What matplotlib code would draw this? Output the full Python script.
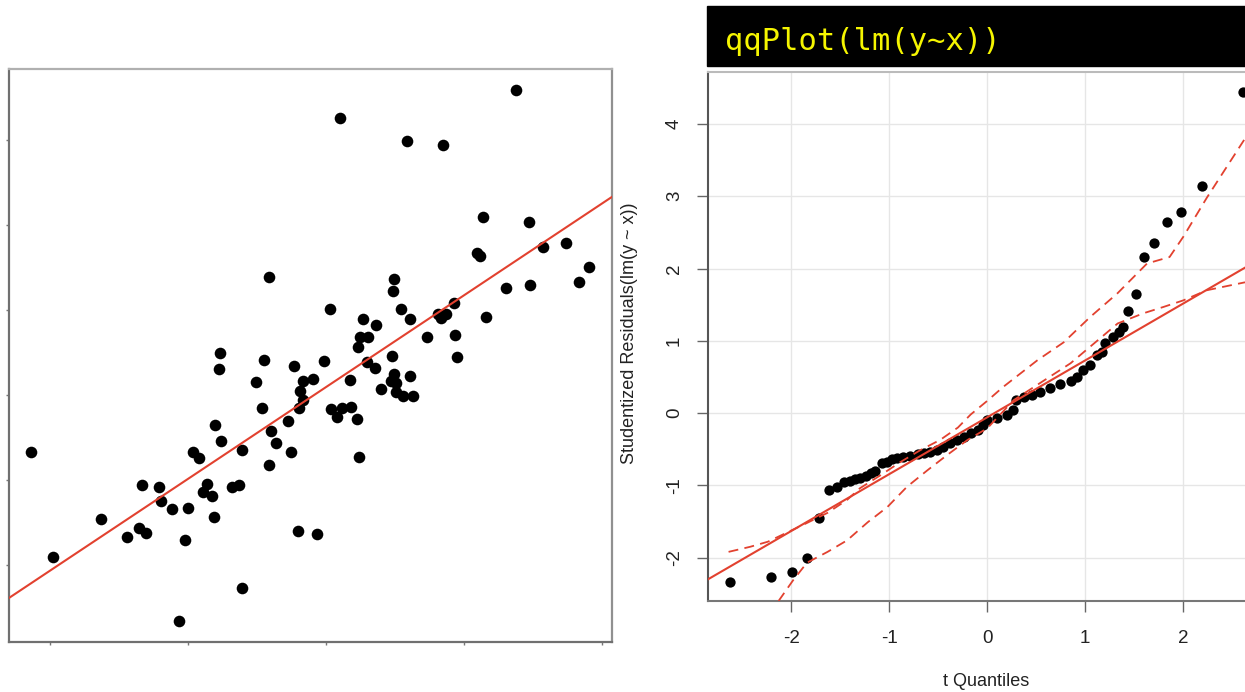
import matplotlib.pyplot as plt
from matplotlib.patches import Rectangle

# left panel: y vs x scatter with the lm fit (tick labels are blank in the source)
x_vals = [-1.38, 0.22, 3.70, 5.58, 6.45, 6.96, 6.67, 7.90, 8.04, 8.84,
          9.35, 9.78, 10.00, 10.36, 10.80, 11.09, 11.38, 11.74, 11.88, 11.96,
          12.39, 12.32, 12.25, 13.19, 13.70, 13.91, 13.91, 14.93, 15.36, 15.51,
          16.01, 15.87, 15.87, 16.38, 17.25, 17.46, 17.68, 17.97, 18.04, 18.12,
          18.33, 18.33, 19.06, 19.35, 19.86, 20.29, 20.36, 20.80, 21.01, 21.16,
          21.81, 21.74, 22.25, 22.39, 22.32, 22.46, 22.68, 23.04, 22.97, 23.62,
          23.55, 23.99, 24.78, 24.71, 24.86, 24.93, 24.93, 25.07, 25.07, 25.43,
          25.87, 26.09, 26.09, 25.58, 26.30, 27.32, 28.12, 28.33, 28.48, 28.70,
          29.28, 29.35, 29.49, 30.94, 31.16, 31.38, 31.59, 33.04, 33.77, 34.71,
          34.78, 35.72, 37.39, 38.33, 39.06]
y_vals = [13.29, 0.94, 5.41, 3.29, 4.35, 3.76, 9.41, 9.18, 7.53, 6.59,
          -6.59, 2.94, 6.71, 13.29, 12.59, 8.59, 9.53, 8.12, 5.65, 16.47,
          14.59, 24.94, 23.06, 9.18, 9.41, -2.71, 13.53, 21.53, 18.47, 24.12,
          15.76, 11.76, 33.88, 14.35, 16.94, 13.29, 23.41, 4.00, 18.47, 20.47,
          21.65, 19.41, 21.88, 3.65, 24.00, 30.12, 18.35, 17.41, 52.59, 18.47,
          18.59, 21.76, 17.18, 12.71, 25.65, 26.82, 28.94, 26.82, 23.88, 28.24,
          23.18, 20.71, 24.59, 21.65, 32.24, 33.65, 22.47, 21.41, 20.35, 30.12,
          49.88, 22.24, 28.94, 19.88, 19.88, 26.82, 29.53, 29.06, 49.41, 29.53,
          30.82, 27.06, 24.47, 36.71, 36.35, 40.94, 29.18, 32.59, 55.88, 40.35,
          32.94, 37.41, 37.88, 33.29, 35.06]
fit_intercept = -0.67
fit_slope = 1.08
left_xticks = [0, 10, 20, 30, 40]
left_yticks = [0, 10, 20, 30, 40, 50]

# right panel: qqPlot(lm(y~x))
t_quant = [-2.63, -2.21, -1.99, -1.84, -1.72, -1.62, -1.53, -1.46, -1.40, -1.35,
           -1.30, -1.24, -1.19, -1.15, -1.07, -1.02, -0.97, -0.92, -0.86, -0.79,
           -0.71, -0.65, -0.58, -0.51, -0.45, -0.38, -0.31, -0.24, -0.17, -0.10,
           -0.04, 0.00, 0.10, 0.20, 0.26, 0.29, 0.37, 0.46, 0.54, 0.64,
           0.74, 0.85, 0.92, 0.98, 1.05, 1.12, 1.17, 1.20, 1.28, 1.34,
           1.38, 1.44, 1.52, 1.60, 1.70, 1.83, 1.98, 2.19, 2.61]
stud_resid = [-2.34, -2.27, -2.20, -2.00, -1.45, -1.07, -1.02, -0.95, -0.94, -0.91,
              -0.90, -0.87, -0.83, -0.80, -0.69, -0.68, -0.64, -0.62, -0.61, -0.59,
              -0.57, -0.55, -0.54, -0.51, -0.47, -0.41, -0.37, -0.33, -0.28, -0.24,
              -0.17, -0.10, -0.07, -0.03, 0.04, 0.18, 0.22, 0.25, 0.29, 0.35,
              0.40, 0.44, 0.50, 0.59, 0.66, 0.80, 0.84, 0.97, 1.05, 1.12,
              1.19, 1.41, 1.65, 2.16, 2.35, 2.64, 2.78, 3.14, 4.44]
ref_intercept = -0.057
ref_slope = 0.787
upper_x = [-2.64, -2.42, -2.24, -2.04, -1.84, -1.63, -1.43, -1.30, -1.09, -0.89,
           -0.68, -0.48, -0.30, -0.17, 0.00, 0.16, 0.51, 0.78, 1.05, 1.33,
           1.63, 1.86, 2.00, 2.24, 2.63]
upper_y = [-1.92, -1.85, -1.78, -1.65, -1.52, -1.38, -1.20, -1.04, -0.86, -0.68,
           -0.51, -0.37, -0.20, -0.02, 0.17, 0.36, 0.73, 0.98, 1.33, 1.66,
           2.07, 2.16, 2.44, 2.98, 3.80]
lower_x = [-2.13, -1.98, -1.84, -1.63, -1.43, -1.22, -1.02, -0.82, -0.61, -0.41,
           -0.20, 0.00, 0.27, 0.85, 1.33, 1.59, 1.80, 2.00, 2.24, 2.63]
lower_y = [-2.60, -2.31, -2.07, -1.92, -1.76, -1.51, -1.30, -1.02, -0.79, -0.58,
           -0.37, -0.21, 0.18, 0.69, 1.24, 1.38, 1.47, 1.56, 1.70, 1.81]
qq_xticks = [-2, -1, 0, 1, 2]
qq_yticks = [-2, -1, 0, 1, 2, 3, 4]

RED = '#e2412f'
W, H = 1245, 692

plt.rcParams['font.family'] = ['Liberation Sans', 'DejaVu Sans']
plt.rcParams['axes.unicode_minus'] = False

fig = plt.figure(figsize=(W / 100, H / 100), dpi=100)

# ---- left scatter
ax1 = fig.add_axes([9 / W, 1 - 642 / H, 603 / W, 573 / H])
ax1.scatter(x_vals, y_vals, s=70, color='black', linewidths=0, zorder=2)
ax1.axline((0, fit_intercept), slope=fit_slope, color=RED, lw=1.5, zorder=3)
ax1.set_xlim(-2.97, 40.72)
ax1.set_ylim(-9.06, 58.35)
ax1.set_xticks(left_xticks)
ax1.set_yticks(left_yticks)
ax1.set_xticklabels([])
ax1.set_yticklabels([])
ax1.tick_params(length=2.5, width=1, color='#777777')
ax1.spines['left'].set_color('#707070')
ax1.spines['bottom'].set_color('#707070')
ax1.spines['top'].set_color('#b0b0b0')
ax1.spines['right'].set_color('#909090')
for sp in ax1.spines.values():
    sp.set_linewidth(1.6)

# ---- right qq plot
ax2 = fig.add_axes([708 / W, 1 - 601 / H, 5.7 * 98 / W, 529 / H])
ax2.grid(True, color='#e6e6e6', lw=1)
ax2.set_axisbelow(True)
ax2.scatter(t_quant, stud_resid, s=55, color='black', linewidths=0, zorder=2)
ax2.axline((0, ref_intercept), slope=ref_slope, color=RED, lw=1.5, zorder=3)
ax2.plot(upper_x, upper_y, color=RED, lw=1.3, ls=(0, (5.5, 3.5)), zorder=3)
ax2.plot(lower_x, lower_y, color=RED, lw=1.3, ls=(0, (5.5, 3.5)), zorder=3)
ax2.set_xlim(-2.85, 2.85)
ax2.set_ylim(-2.60, 4.72)
ax2.set_xticks(qq_xticks)
ax2.set_yticks(qq_yticks)
ax2.tick_params(axis='both', length=8, width=1, color='#666666', labelsize=13.5,
                labelcolor='#222222')
ax2.tick_params(axis='x', pad=13)
ax2.tick_params(axis='y', pad=10, labelrotation=90)
for lab in ax2.get_yticklabels():
    lab.set_va('center')
ax2.spines['left'].set_color('#555555')
ax2.spines['bottom'].set_color('#777777')
ax2.spines['top'].set_color('#bbbbbb')
ax2.spines['right'].set_visible(False)
for sp in ax2.spines.values():
    sp.set_linewidth(1.5)

fig.text(630 / W, 1 - 333 / H, 'Studentized Residuals(lm(y ~ x))', rotation=90,
         ha='center', va='center', fontsize=13, color='#222222')
fig.text(986 / W, 1 - 682 / H, 't Quantiles', ha='center', va='center',
         fontsize=13, color='#222222')

# black code banner above the qq plot
fig.add_artist(Rectangle((707 / W, 1 - 66 / H), (W - 707) / W, 60 / H,
                         transform=fig.transFigure, color='black', zorder=5))
fig.text(725 / W, 1 - 42 / H, 'qqPlot(lm(y~x))', ha='left', va='center',
         fontsize=22, color='#f5f500', family='DejaVu Sans Mono', zorder=6)

fig.savefig('out.png', dpi=100)
